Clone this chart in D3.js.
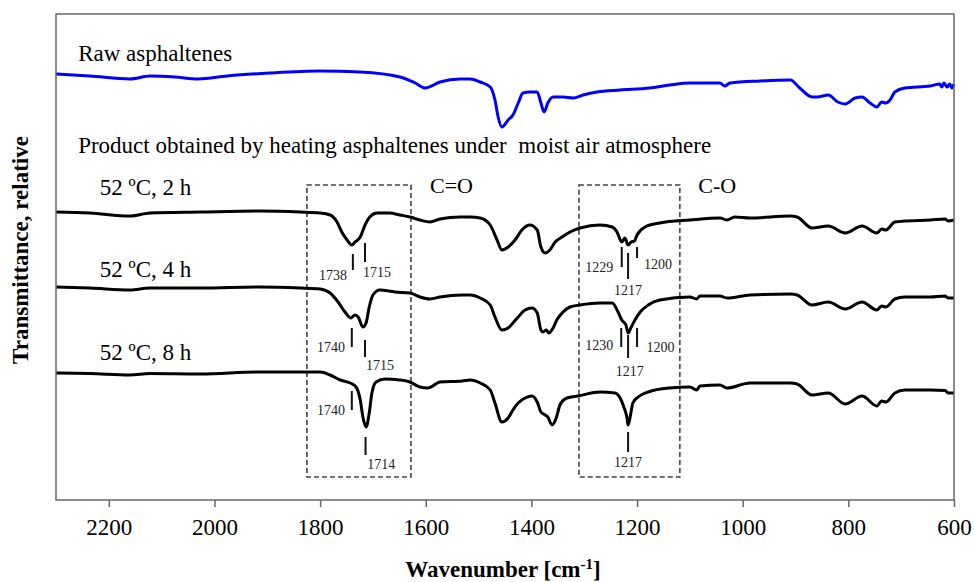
<!DOCTYPE html>
<meta charset="utf-8">
<style>
body { margin: 0; background: #fff; }
svg text { font-family: "Liberation Serif", "Times New Roman", "DejaVu Serif", serif; }
.axis .domain { display: none; }
</style>
<svg width="974" height="582"></svg>
<script src="https://d3js.org/d3.v7.min.js"></script>
<script>

// spectra: [wavenumber cm-1, transmittance (relative, curves offset)]
var raw = [[2300,42.6],[2236,42.4],[2160,42.1],[2122,42.4],[2075,42.3],[2031,42.1],[1976,42.4],[1895,42.7],[1800,42.9],[1724,42.8],[1649,42.3],[1620,41.7],[1601,41.2],[1573,41.8],[1535,42.1],[1516,42.1],[1497,41.8],[1478,41.3],[1469,40.0],[1463,38.3],[1456,37.3],[1444,38.0],[1435,38.5],[1425,39.7],[1416,40.7],[1403,40.8],[1389,40.8],[1382,39.7],[1376,38.8],[1369,39.7],[1359,40.3],[1340,40.3],[1321,40.2],[1302,40.5],[1276,40.8],[1232,41.0],[1176,41.2],[1138,41.5],[1100,41.7],[1043,41.7],[1034,41.4],[1024,41.7],[967,41.9],[910,42.0],[892,41.2],[869,40.3],[859,40.3],[838,40.5],[820,39.8],[806,39.6],[787,40.2],[774,40.3],[759,39.7],[746,39.3],[737,39.8],[729,39.7],[721,40.0],[712,40.8],[693,41.2],[645,41.4],[627,41.6],[623,41.3],[619,41.7],[613,41.3],[608,41.6],[604,41.2],[600,41.6]];

var h2 = [[2300,28.8],[2236,28.7],[2160,28.4],[2122,28.7],[2027,28.8],[1914,28.9],[1838,28.8],[1800,28.7],[1781,28.5],[1768,27.8],[1759,26.8],[1749,26.0],[1740,25.5],[1734,25.8],[1724,26.3],[1715,27.5],[1706,28.3],[1692,28.7],[1668,28.7],[1649,28.5],[1630,28.3],[1611,28.0],[1592,27.8],[1573,28.1],[1535,28.3],[1516,28.3],[1497,28.2],[1478,27.5],[1465,26.0],[1456,25.0],[1444,25.3],[1431,26.0],[1418,27.0],[1403,27.5],[1389,27.0],[1382,25.3],[1374,24.7],[1365,25.0],[1355,25.8],[1342,26.3],[1327,26.8],[1308,27.2],[1270,27.5],[1247,27.3],[1238,26.8],[1229,25.8],[1223,26.2],[1217,25.5],[1211,25.8],[1205,25.9],[1200,26.5],[1185,27.3],[1157,27.7],[1100,28.0],[1043,28.2],[1030,28.0],[1015,28.3],[986,28.2],[910,28.4],[897,28.3],[869,27.2],[838,27.4],[806,26.7],[774,27.4],[746,26.7],[737,27.1],[729,27.0],[712,27.8],[693,27.9],[645,28.0],[617,28.1],[611,27.9],[600,28.0]];

var h4 = [[2300,21.3],[2236,21.2],[2160,21.0],[2122,21.2],[2027,21.2],[1914,21.3],[1838,21.2],[1800,21.1],[1781,20.7],[1766,19.8],[1753,18.8],[1742,18.2],[1734,18.5],[1728,18.3],[1719,17.3],[1713,17.7],[1707,19.3],[1700,20.5],[1687,21.0],[1658,20.8],[1630,20.7],[1611,20.3],[1592,20.1],[1573,20.3],[1531,20.5],[1516,20.5],[1497,20.2],[1478,19.5],[1469,18.3],[1456,17.0],[1444,17.2],[1435,17.7],[1425,18.3],[1412,19.0],[1399,19.2],[1389,18.7],[1382,17.0],[1378,16.8],[1372,17.0],[1367,16.7],[1359,17.2],[1352,18.0],[1340,18.8],[1327,19.3],[1308,19.5],[1270,19.7],[1247,19.7],[1236,18.8],[1229,18.0],[1221,17.5],[1217,16.7],[1211,17.3],[1204,18.0],[1194,18.8],[1179,19.5],[1157,20.0],[1100,20.3],[1087,20.1],[1081,20.4],[1043,20.4],[1030,20.2],[986,20.5],[910,20.6],[897,20.5],[869,19.5],[838,19.8],[806,19.1],[774,19.8],[746,19.0],[737,19.4],[729,19.3],[712,20.1],[693,20.3],[645,20.3],[617,20.4],[611,20.2],[600,20.2]];

var h8 = [[2300,12.7],[2236,12.65],[2160,12.5],[2122,12.65],[2027,12.6],[1914,12.8],[1838,12.8],[1800,12.8],[1781,12.5],[1762,12.0],[1743,11.7],[1732,11.3],[1724,10.0],[1719,8.3],[1713,7.3],[1707,8.7],[1702,10.7],[1694,11.8],[1677,12.1],[1649,12.0],[1630,11.8],[1611,11.3],[1596,11.2],[1573,11.8],[1531,11.9],[1516,12.0],[1497,11.7],[1478,11.0],[1469,9.7],[1456,7.8],[1444,8.2],[1435,9.0],[1425,9.7],[1412,10.2],[1399,10.4],[1389,9.8],[1382,8.8],[1374,8.5],[1369,8.3],[1361,7.5],[1353,8.2],[1346,9.5],[1333,10.2],[1312,10.4],[1270,10.8],[1242,10.7],[1232,10.2],[1225,9.3],[1219,8.2],[1217,7.5],[1213,8.3],[1208,9.7],[1198,10.3],[1179,10.8],[1138,11.2],[1100,11.3],[1087,11.0],[1081,11.4],[1043,11.5],[1030,11.2],[986,11.7],[910,11.7],[897,11.6],[869,10.5],[838,10.7],[806,9.6],[774,10.4],[746,9.4],[737,9.9],[729,9.8],[712,10.7],[693,11.0],[645,11.0],[617,10.95],[611,10.7],[600,10.7]];

var xTicks = [2200, 2000, 1800, 1600, 1400, 1200, 1000, 800, 600];

// peak marks: tick from t0 to t1, label at (lx, ly)
var peakMarks = [
  {wn: 1738, t0: 24.6, t1: 23.0, label: "1738", lx: 1749, ly: 22.0, anchor: "end"},
  {wn: 1715, t0: 25.7, t1: 23.8, label: "1715", lx: 1719, ly: 22.3, anchor: "start"},
  {wn: 1229, t0: 25.3, t1: 23.3, label: "1229", lx: 1245, ly: 22.8, anchor: "end"},
  {wn: 1217, t0: 24.7, t1: 22.1, label: "1217", lx: 1217, ly: 20.5, anchor: "middle"},
  {wn: 1200, t0: 25.3, t1: 24.2, label: "1200", lx: 1187, ly: 23.1, anchor: "start"},
  {wn: 1740, t0: 17.2, t1: 15.3, label: "1740", lx: 1753, ly: 14.8, anchor: "end"},
  {wn: 1715, t0: 16.0, t1: 14.3, label: "1715", lx: 1713, ly: 13.0, anchor: "start"},
  {wn: 1230, t0: 17.2, t1: 15.3, label: "1230", lx: 1245, ly: 15.0, anchor: "end"},
  {wn: 1217, t0: 16.5, t1: 14.2, label: "1217", lx: 1214, ly: 12.4, anchor: "middle"},
  {wn: 1200, t0: 17.2, t1: 15.3, label: "1200", lx: 1182, ly: 14.8, anchor: "start"},
  {wn: 1740, t0: 10.9, t1: 9.0, label: "1740", lx: 1753, ly: 8.5, anchor: "end"},
  {wn: 1714, t0: 6.3, t1: 4.5, label: "1714", lx: 1711, ly: 3.1, anchor: "start"},
  {wn: 1217, t0: 6.8, t1: 4.8, label: "1217", lx: 1217, ly: 3.3, anchor: "middle"}
];

// dashed regions [from, to] in cm-1
var regions = [
  {x0: 1825, x1: 1628, label: "C=O", lx: 1592},
  {x0: 1310, x1: 1119, label: "C-O", lx: 1084}
];

var svg = d3.select("svg"),
    margin = {top: 14, right: 20, bottom: 82, left: 56},
    width = +svg.attr("width") - margin.left - margin.right,
    height = +svg.attr("height") - margin.top - margin.bottom,
    g = svg.append("g").attr("transform", "translate(" + margin.left + "," + margin.top + ")");

var x = d3.scaleLinear().domain([2300, 600]).range([0, width]);
var y = d3.scaleLinear().domain([0, 48.6]).range([height, 0]);

// dashed boxes
g.selectAll(".region")
  .data(regions)
  .enter().append("rect")
    .attr("x", function(d) { return x(d.x0); })
    .attr("width", function(d) { return x(d.x1) - x(d.x0); })
    .attr("y", y(31.5))
    .attr("height", y(2.3) - y(31.5))
    .attr("fill", "none")
    .attr("stroke", "#444")
    .attr("stroke-width", 1.6)
    .attr("stroke-dasharray", "5,3");

g.selectAll(".region-label")
  .data(regions)
  .enter().append("text")
    .attr("x", function(d) { return x(d.lx); })
    .attr("y", y(30.7))
    .attr("font-size", 22)
    .text(function(d) { return d.label; });

// spectra
var line = d3.line()
    .x(function(d) { return x(d[0]); })
    .y(function(d) { return y(d[1]); })
    .curve(d3.curveMonotoneX);

var series = [
  {data: raw, color: "#0000ff"},
  {data: h2, color: "#000"},
  {data: h4, color: "#000"},
  {data: h8, color: "#000"}
];

g.selectAll(".spectrum")
  .data(series)
  .enter().append("path")
    .attr("fill", "none")
    .attr("stroke", function(d) { return d.color; })
    .attr("stroke-width", 3)
    .attr("stroke-linejoin", "round")
    .attr("d", function(d) { return line(d.data); });

// peak ticks + labels
g.selectAll(".peak")
  .data(peakMarks)
  .enter().append("line")
    .attr("x1", function(d) { return x(d.wn); })
    .attr("x2", function(d) { return x(d.wn); })
    .attr("y1", function(d) { return y(d.t0); })
    .attr("y2", function(d) { return y(d.t1); })
    .attr("stroke", "#111")
    .attr("stroke-width", 2);

g.selectAll(".peak-label")
  .data(peakMarks)
  .enter().append("text")
    .attr("x", function(d) { return x(d.lx); })
    .attr("y", function(d) { return y(d.ly); })
    .attr("text-anchor", function(d) { return d.anchor; })
    .attr("font-size", 14)
    .attr("fill", "#222")
    .text(function(d) { return d.label; });

// curve captions
var captions = [
  ["Raw asphaltenes", 2258, 43.9],
  ["Product obtained by heating asphaltenes under  moist air atmosphere", 2258, 34.7],
  ["52 \u00baC, 2 h", 2217, 30.5],
  ["52 \u00baC, 4 h", 2217, 22.3],
  ["52 \u00baC, 8 h", 2217, 14.0]
];

g.selectAll(".caption")
  .data(captions)
  .enter().append("text")
    .attr("x", function(d) { return x(d[1]); })
    .attr("y", function(d) { return y(d[2]); })
    .attr("font-size", 23)
    .style("white-space", "pre")
    .text(function(d) { return d[0]; });

// frame
g.append("rect")
    .attr("width", width)
    .attr("height", height)
    .attr("fill", "none")
    .attr("stroke", "#666")
    .attr("stroke-width", 1.5);

g.append("g")
    .attr("class", "axis")
    .attr("transform", "translate(0," + height + ")")
    .call(d3.axisBottom(x).tickValues(xTicks).tickSize(7).tickFormat(d3.format("d")))
  .call(function(a) {
    a.selectAll("line").attr("stroke", "#666").attr("stroke-width", 1.5);
    a.selectAll("text")
      .attr("y", 35)
      .attr("dy", null)
      .attr("font-size", 23)
      .attr("fill", "#000");
  });

// axis titles
var xt = svg.append("text")
    .attr("x", margin.left + width / 2 - 2)
    .attr("y", 577)
    .attr("text-anchor", "middle")
    .attr("font-size", 23)
    .attr("font-weight", "bold");
xt.append("tspan").text("Wavenumber [cm");
xt.append("tspan").attr("dy", -8).attr("font-size", 15).text("-1");
xt.append("tspan").attr("dy", 8).text("]");

svg.append("text")
    .attr("transform", "translate(28," + 250 + ") rotate(-90)")
    .attr("text-anchor", "middle")
    .attr("font-size", 23)
    .attr("font-weight", "bold")
    .text("Transmittance, relative");

</script>
